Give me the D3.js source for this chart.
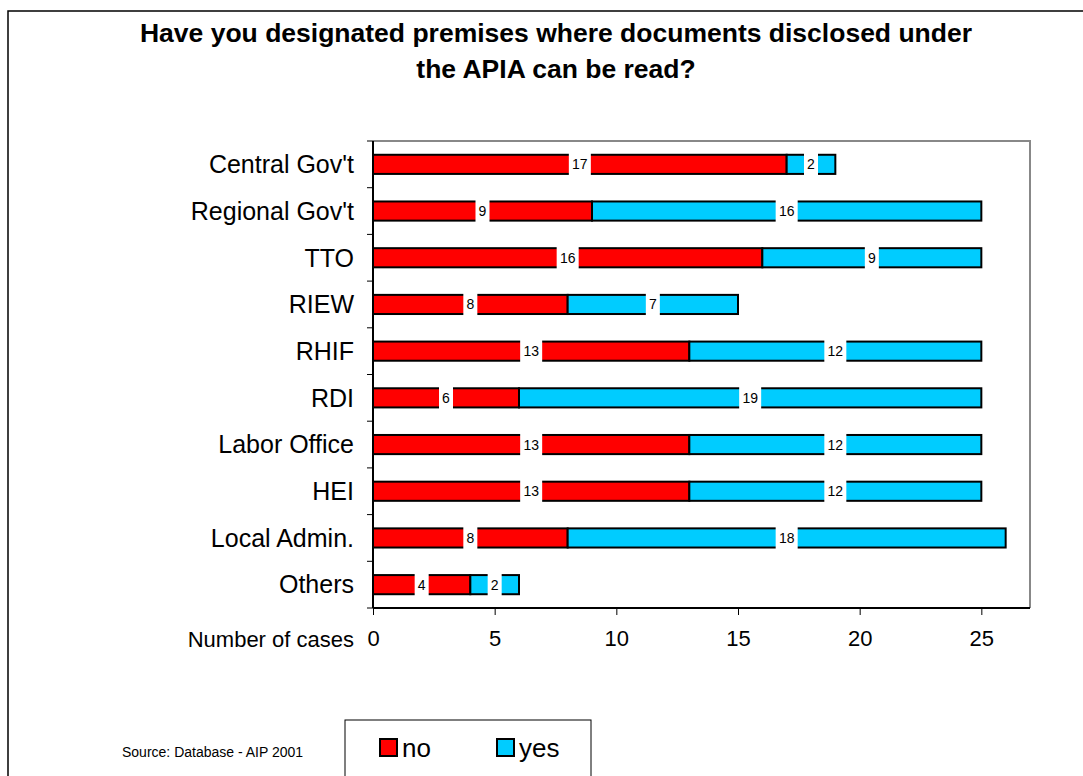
<!DOCTYPE html>
<html>
<head>
<meta charset="utf-8">
<script src="https://cdn.jsdelivr.net/npm/d3@7"></script>
<style>
  html, body { margin: 0; padding: 0; background: #fff; }
  svg { display: block; font-family: Arial, "Liberation Sans", sans-serif; }
</style>
</head>
<body>
<svg id="chart" width="1083" height="776"></svg>
<script>
// Survey answers per institution type
const categories = ["Central Gov't", "Regional Gov't", "TTO", "RIEW", "RHIF", "RDI", "Labor Office", "HEI", "Local Admin.", "Others"];
const noValues  = [17, 9, 16, 8, 13, 6, 13, 13, 8, 4];
const yesValues = [2, 16, 9, 7, 12, 19, 12, 12, 18, 2];
const seriesNames = ["no", "yes"];
const seriesColors = ["#ff0000", "#00ccff"];
const xTicks = [0, 5, 10, 15, 20, 25];

const svg = d3.select("#chart");

// outer page frame
svg.append("rect").attr("x", 8).attr("y", 11).attr("width", 1100).attr("height", 800)
  .attr("fill", "none").attr("stroke", "#000").attr("stroke-width", 1.5);

// title
const title = svg.append("text").attr("text-anchor", "middle")
  .attr("font-size", 26.5).attr("font-weight", "bold");
title.append("tspan").attr("x", 556).attr("y", 42).text("Have you designated premises where documents disclosed under");
title.append("tspan").attr("x", 556).attr("y", 78).text("the APIA can be read?");

const plot = { left: 373, right: 1030, top: 141, bottom: 608 };

const x = d3.scaleLinear().domain([0, 27]).range([plot.left, plot.right]);
const y = d3.scaleBand().domain(categories).range([plot.top, plot.bottom]).paddingInner(0.59).paddingOuter(0.295);
const yTickScale = d3.scaleBand().domain(categories).range([plot.top, plot.bottom]);

// plot frame (grey top/right)
svg.append("path")
  .attr("d", `M${plot.left},${plot.top}H${plot.right}V${plot.bottom}`)
  .attr("fill", "none").attr("stroke", "#888").attr("stroke-width", 2);

// stacked data
const rows = categories.map((c, i) => {
  const segs = [];
  let acc = 0;
  [noValues[i], yesValues[i]].forEach((v, k) => {
    segs.push({ cat: c, key: k, x0: acc, x1: acc + v, value: v });
    acc += v;
  });
  return segs;
}).flat();

svg.append("g").selectAll("rect").data(rows).join("rect")
  .attr("x", d => x(d.x0))
  .attr("y", d => y(d.cat))
  .attr("width", d => x(d.x1) - x(d.x0))
  .attr("height", y.bandwidth())
  .attr("fill", d => seriesColors[d.key])
  .attr("stroke", "#000").attr("stroke-width", 2);

// value labels on white boxes
const lab = svg.append("g").selectAll("g").data(rows).join("g")
  .attr("transform", d => `translate(${x((d.x0 + d.x1) / 2)},${y(d.cat) + y.bandwidth() / 2})`);
lab.append("rect")
  .attr("x", d => String(d.value).length > 1 ? -11 : -7)
  .attr("width", d => String(d.value).length > 1 ? 22 : 14)
  .attr("y", -12).attr("height", 24)
  .attr("fill", "#fff");
lab.append("text")
  .attr("text-anchor", "middle").attr("dy", "0.36em")
  .attr("font-size", 14).text(d => d.value);

// y axis
const yAxis = svg.append("g").attr("transform", `translate(${plot.left},0)`);
yAxis.append("line").attr("x1", 0).attr("x2", 0).attr("y1", plot.top).attr("y2", plot.bottom)
  .attr("stroke", "#000").attr("stroke-width", 2);
const yTickPos = categories.map(c => yTickScale(c)).concat([plot.bottom]);
yAxis.selectAll("line.tick").data(yTickPos).join("line").attr("class", "tick")
  .attr("x1", -6).attr("x2", 0).attr("y1", d => d).attr("y2", d => d)
  .attr("stroke", "#000").attr("stroke-width", 1);
yAxis.selectAll("text").data(categories).join("text")
  .attr("x", -19).attr("y", d => yTickScale(d) + yTickScale.bandwidth() / 2)
  .attr("dy", "0.35em").attr("text-anchor", "end").attr("font-size", 25)
  .text(d => d);

// x axis
const xAxisG = svg.append("g").attr("transform", `translate(0,${plot.bottom})`)
  .call(d3.axisBottom(x).tickValues(xTicks).tickSize(7).tickPadding(15).tickFormat(d3.format("d")));
xAxisG.select(".domain").attr("stroke", "#000").attr("stroke-width", 2)
  .attr("d", `M${plot.left},0H${plot.right}`);
xAxisG.selectAll(".tick line").attr("stroke", "#000");
xAxisG.selectAll(".tick text").attr("font-size", 22).attr("fill", "#000")
  .attr("font-family", "Arial, 'Liberation Sans', sans-serif");

svg.append("text").attr("x", 354).attr("y", 647)
  .attr("text-anchor", "end").attr("font-size", 22).text("Number of cases");

// source note
svg.append("text").attr("x", 122).attr("y", 757).attr("font-size", 14).text("Source: Database - AIP 2001");

// legend
const legend = svg.append("g");
legend.append("rect").attr("x", 345).attr("y", 720).attr("width", 246).attr("height", 80)
  .attr("fill", "#fff").attr("stroke", "#000").attr("stroke-width", 1);
const legX = [380, 497];
const li = legend.selectAll("g.item").data(seriesNames).join("g").attr("class", "item")
  .attr("transform", (d, i) => `translate(${legX[i]},739)`);
li.append("rect").attr("width", 17).attr("height", 17)
  .attr("fill", (d, i) => seriesColors[i]).attr("stroke", "#000").attr("stroke-width", 2);
li.append("text").attr("x", 22).attr("y", 9).attr("dy", "0.36em").attr("font-size", 26).text(d => d);
</script>
</body>
</html>
